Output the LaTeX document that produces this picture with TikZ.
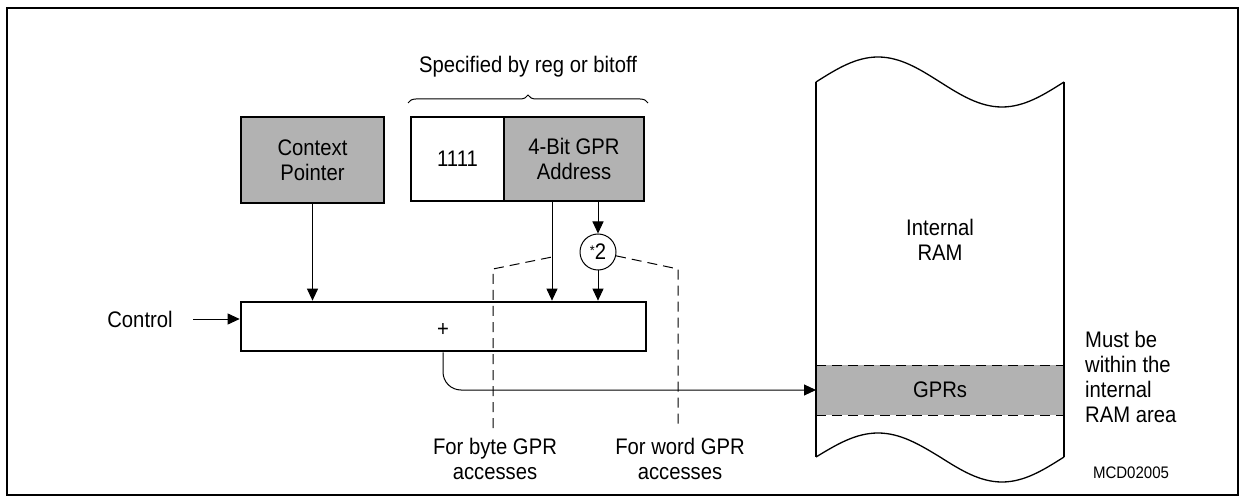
\documentclass[tikz,border=0pt]{standalone}
\usepackage{fontspec}
\setmainfont[FakeStretch=0.9]{Liberation Sans}
\usetikzlibrary{arrows.meta,decorations.pathreplacing,calc}
\definecolor{boxgray}{RGB}{178,178,178}
\begin{document}
\begin{tikzpicture}[x=1pt,y=-1pt,
  every node/.style={font=\fontsize{22.5}{25}\selectfont, inner sep=0pt},
  regbox/.style={draw, line width=2.7pt, fill=boxgray, align=center},
  wbox/.style={draw, line width=2.7pt, fill=white, align=center},
  arr/.style={line width=1pt,-{Triangle[length=12pt,width=11pt]}},
  dsh/.style={line width=1pt, dash pattern=on 10pt off 6pt},
  thinline/.style={line width=1pt}]
\useasboundingbox (0,0) rectangle (1241,502);
\draw[line width=2.7pt] (7,8) rectangle (1238,495);

% registers
\node[regbox, minimum width=143, minimum height=86] (ctx) at (312.5,160) {Context\\Pointer};
\node[wbox, minimum width=93, minimum height=84] (ones) at (457.5,159) {1111};
\node[regbox, minimum width=140, minimum height=84] (addr) at (574,159) {4-Bit GPR\\Address};
\node[wbox, minimum width=405, minimum height=49] (add) at (443.5,326.5) {};
\node (plus) at (443,330) {+};
\node[circle, draw, line width=1pt, fill=white, minimum size=36] (mul) at (598,252) {\raisebox{4pt}{\fontsize{14}{14}\selectfont *}2};

% brace and its label
\coordinate (brl) at (408,103);
\coordinate (brr) at (648,103);
\draw[thinline, decorate, decoration={brace, amplitude=8pt}] (brl) -- (brr);
\node (spec) at (528,67) {Specified by reg or bitoff};

% arrows
\coordinate (bx) at (552,0);
\draw[arr] (ctx.south) -- (ctx.south |- add.north);
\draw[arr] (addr.south -| bx) -- (add.north -| bx);
\draw[arr] (addr.south -| mul) -- (mul.north);
\draw[arr] (mul.south) -- (add.north -| mul);

% control
\node (ctrl) at (140,319) {Control};
\coordinate (ctrlstart) at (193,319);
\draw[arr] (ctrlstart) -- (add.west |- ctrlstart);

% dashed selectors
\coordinate (bytebot) at (493,428);
\coordinate (bytetop) at (493,269);
\coordinate (bytejoin) at (552,257);
\coordinate (wordtop) at (678,269);
\coordinate (wordbot) at (678,428);
\draw[dsh] (bytebot) -- (bytetop) -- (bytejoin);
\draw[dsh] (mul.-12) -- (wordtop) -- (wordbot);
\node[align=center] (bytetxt) at (495,459) {For byte GPR\\accesses};
\node[align=center] (wordtxt) at (680,459) {For word GPR\\accesses};

% RAM
\fill[boxgray] (816,365) rectangle (1064,415);
\draw[dsh] (816,365) -- (1064,365);
\draw[dsh] (816,415) -- (1064,415);
\draw[line width=1.3pt] (816,82) sin (878,57) cos (940,82) sin (1002,107) cos (1064,82);
\draw[line width=1.3pt] (816,457) sin (878,433) cos (940,457) sin (1002,482) cos (1064,457);
\draw[line width=2.7pt] (816,82) -- (816,457);
\draw[line width=2.7pt] (1064,82) -- (1064,457);
\coordinate (ramin) at (816,390);
\node[align=center] (intram) at (940,240) {Internal\\RAM};
\node (gprs) at (940,390) {GPRs};
\draw[arr, rounded corners=18pt] (add.south -| plus) |- (ramin);

\node[align=left, anchor=west] (must) at (1085,377) {\fontsize{22.5}{24}\selectfont Must be\\within the\\internal\\RAM area};
\node (mcd) at (1131,473) {\fontsize{16.7}{18}\selectfont MCD02005};
\end{tikzpicture}
\end{document}
